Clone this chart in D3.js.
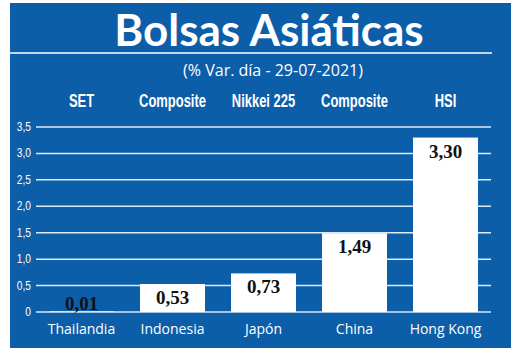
<!DOCTYPE html>
<html>
<head>
<meta charset="utf-8">
<script src="https://cdn.jsdelivr.net/npm/d3@7"></script>
<style>
  body { margin: 0; background: #fff; }
  svg { display: block; }
</style>
</head>
<body>
<svg id="chart" width="520" height="353"></svg>
<script>
    // data
    var countries = ['Thailandia', 'Indonesia', 'Japón', 'China', 'Hong Kong'],
        indices = ['SET', 'Composite', 'Nikkei 225', 'Composite', 'HSI'],
        changes = [0.01, 0.53, 0.73, 1.49, 3.30],
        yTicks = [0, 0.5, 1.0, 1.5, 2.0, 2.5, 3.0, 3.5];

    var blue = '#0c5ea8',
        fmt = function (v, d) { return v.toFixed(d).replace('.', ','); };

    var svg = d3.select('#chart');

    svg.append('rect')
        .attr('x', 10).attr('y', 3)
        .attr('width', 501).attr('height', 345)
        .attr('fill', blue);

    svg.append('text')
        .attr('x', 269).attr('y', 46)
        .attr('text-anchor', 'middle')
        .attr('font-family', 'Lato, sans-serif')
        .attr('font-weight', 'bold')
        .attr('font-size', 44)
        .attr('fill', '#fff')
        .text('Bolsas Asiáticas');

    svg.append('line')
        .attr('x1', 10).attr('x2', 492)
        .attr('y1', 53).attr('y2', 53)
        .attr('stroke', '#fff').attr('stroke-width', 1.5);

    svg.append('text')
        .attr('x', 273).attr('y', 76)
        .attr('text-anchor', 'middle')
        .attr('font-family', '"Open Sans", sans-serif')
        .attr('font-size', 16)
        .attr('fill', '#fff')
        .text('(% Var. día - 29-07-2021)');

    var x = d3.scaleBand()
        .domain(countries)
        .range([36, 491])
        .paddingInner(0.286)
        .paddingOuter(0.143);

    var y = d3.scaleLinear()
        .domain([0, 3.5])
        .range([312, 127]);

    // grid lines + tick labels
    var grid = svg.append('g');
    grid.selectAll('line')
        .data(yTicks)
        .enter().append('line')
        .attr('x1', 36).attr('x2', 491)
        .attr('y1', function (d) { return y(d); })
        .attr('y2', function (d) { return y(d); })
        .attr('stroke', '#dbeaf7')
        .attr('stroke-width', 1.5);

    grid.selectAll('text')
        .data(yTicks)
        .enter().append('text')
        .attr('transform', function (d) { return 'translate(31,' + (y(d) + 4) + ') scale(0.85,1)'; })
        .attr('text-anchor', 'end')
        .attr('font-family', '"Liberation Sans", sans-serif')
        .attr('font-size', 12)
        .attr('fill', '#fff')
        .text(function (d) { return d === 0 ? '0' : fmt(d, 1); });

    // index names on top, narrowed to look condensed
    var heads = svg.append('g').selectAll('text')
        .data(indices)
        .enter().append('text')
        .attr('text-anchor', 'middle')
        .attr('font-family', '"Liberation Sans", sans-serif')
        .attr('font-weight', 'bold')
        .attr('font-size', 18)
        .attr('fill', '#fff')
        .text(function (d) { return d; });

    var squeeze = 67 / heads.nodes()[1].getComputedTextLength();
    heads.attr('transform', function (d, i) {
        var cx = x(countries[i]) + x.bandwidth() / 2;
        return 'translate(' + cx + ',106.5) scale(' + squeeze + ',1)';
    });

    // bars
    svg.append('g').selectAll('rect')
        .data(changes)
        .enter().append('rect')
        .attr('x', function (d, i) { return x(countries[i]); })
        .attr('y', function (d) { return y(d); })
        .attr('width', x.bandwidth())
        .attr('height', function (d) { return y(0) - y(d); })
        .attr('fill', '#fff');

    // value labels
    svg.append('g').selectAll('text')
        .data(changes)
        .enter().append('text')
        .attr('x', function (d, i) { return x(countries[i]) + x.bandwidth() / 2; })
        .attr('y', function (d) { return Math.min(y(d) + 20, y(0) - 2); })
        .attr('text-anchor', 'middle')
        .attr('font-family', '"Liberation Serif", serif')
        .attr('font-weight', 'bold')
        .attr('font-size', 19)
        .attr('fill', '#111')
        .text(function (d) { return fmt(d, 2); });

    // country names under the axis
    svg.append('g').selectAll('text')
        .data(countries)
        .enter().append('text')
        .attr('x', function (d) { return x(d) + x.bandwidth() / 2; })
        .attr('y', 334)
        .attr('text-anchor', 'middle')
        .attr('font-family', '"Open Sans", sans-serif')
        .attr('font-size', 14)
        .attr('fill', '#fff')
        .text(function (d) { return d; });
</script>
</body>
</html>
